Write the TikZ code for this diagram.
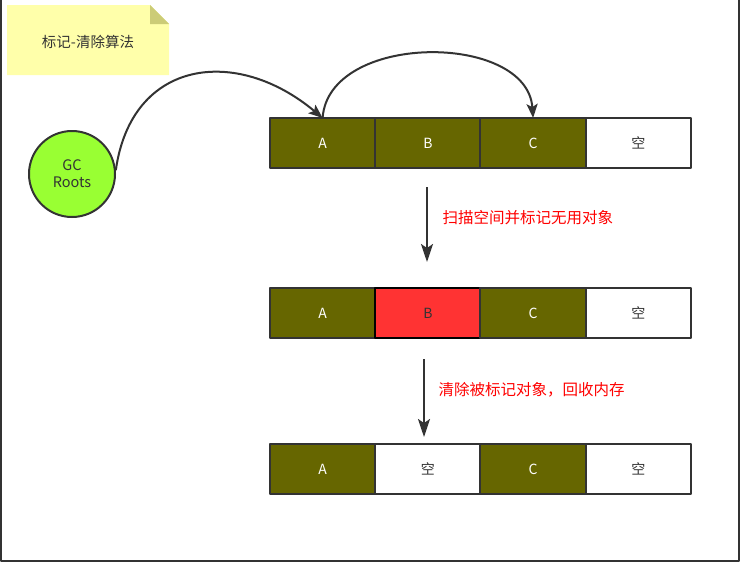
\documentclass[tikz,border=0pt]{standalone}
\usepackage{fontspec}
\setmainfont{Noto Sans CJK SC}
\usepackage{xcolor}
\usetikzlibrary{arrows.meta,positioning}
\definecolor{linegray}{HTML}{333333}
\definecolor{textgray}{HTML}{333333}
\definecolor{celllive}{HTML}{666600}
\definecolor{celldead}{HTML}{FF3333}
\definecolor{rootgreen}{HTML}{99FF33}
\definecolor{notefill}{HTML}{FFFFAA}
\definecolor{notefold}{HTML}{CCCC77}
\tikzset{
  every picture/.style={line join=round, >=Stealth},
  cell/.style={draw=linegray, line width=2pt, outer sep=0pt, inner sep=0pt,
    minimum width=105.25pt, minimum height=50pt, font=\fontsize{14}{14}\selectfont},
  live/.style={cell, fill=celllive, text=white},
  freecell/.style={cell, fill=white, text=textgray},
  garbage/.style={cell, draw=black, fill=celldead, text=textgray},
  ref/.style={draw=linegray, line width=2pt, -{Stealth[length=14pt,width=11pt,inset=3pt]}},
  phase/.style={draw=linegray, line width=2.2pt, -{Stealth[length=18pt,width=12pt,inset=4pt]}},
  phaselabel/.style={anchor=west, text=red, font=\fontsize{15.5}{15.5}\selectfont},
}

\begin{document}
\begin{tikzpicture}[x=1pt,y=-1pt]
\useasboundingbox (0,0) rectangle (741,562);
% frame
\draw[linegray, line width=2pt] (1,0) -- (1,561) -- (739,561) -- (739,0);

% note
\fill[notefill] (7,5) -- (150,5) -- (169,24) -- (169,75) -- (7,75) -- cycle;
\fill[notefold] (150,5) -- (150,24) -- (169,24) -- cycle;
\node[text=textgray, font=\fontsize{14.5}{14.5}\selectfont] (title) at (88,42) {标记-清除算法};

% gc roots
\node[circle, draw=linegray, line width=2pt, fill=rootgreen, minimum size=86pt,
  align=center, text=textgray, font=\fontsize{14.5}{17}\selectfont] (roots) at (72,174) {GC\\Roots};

% row 1
\node[live] (a1) at (322.6,143) {A};
\node[live, right=0pt of a1] (b1) {B};
\node[live, right=0pt of b1] (c1) {C};
\node[freecell, right=0pt of c1] (d1) {空};

% row 2
\node[live] (a2) at (322.6,313) {A};
\node[garbage, right=0pt of a2] (b2) {B};
\node[live, right=0pt of b2] (c2) {C};
\node[freecell, right=0pt of c2] (d2) {空};

% row 3
\node[live] (a3) at (322.6,469) {A};
\node[freecell, right=0pt of a3] (b3) {空};
\node[live, right=0pt of b3] (c3) {C};
\node[freecell, right=0pt of c3] (d3) {空};

% references
\draw[ref] (roots.5) to[out=82, in=140, looseness=1.35] (a1.north);
\draw[ref] (a1.north) to[out=86, in=94, looseness=1.05] (c1.north);

% phases
\coordinate (s1) at (427,187);
\coordinate (e1) at (427,262);
\coordinate (s2) at (424,359);
\coordinate (e2) at (424,437);
\draw[phase] (s1) -- (e1);
\draw[phase] (s2) -- (e2);
\node[phaselabel] (scan) at (439,218) {扫描空间并标记无用对象};
\node[phaselabel] (sweep) at (435,390) {清除被标记对象，回收内存};
\end{tikzpicture}
\end{document}
